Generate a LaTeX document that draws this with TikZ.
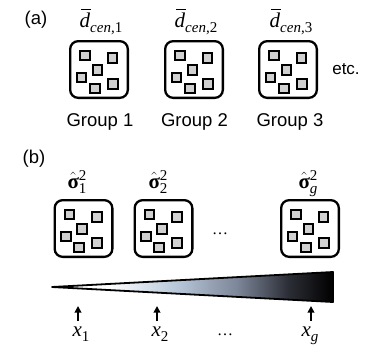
\documentclass[tikz,border=0pt]{standalone}
\usepackage{fontspec}
\setmainfont{Liberation Sans}
\newfontfamily\tnr{Liberation Serif}
\usetikzlibrary{arrows.meta}
\definecolor{sqfill}{HTML}{D0D0D0}
\definecolor{wlb}{HTML}{B8C8DA}
\definecolor{wmid}{HTML}{7C8698}
\definecolor{wdark}{HTML}{2C2E36}
\pgfdeclarehorizontalshading{wedgeshade}{100bp}{color(0bp)=(white); color(25bp)=(white); color(35bp)=(white); color(47bp)=(wlb); color(58bp)=(wmid); color(67bp)=(wdark); color(75bp)=(black); color(100bp)=(black)}
\newcommand\mainsz{\tnr\fontsize{21}{21}\selectfont}
\newcommand\scrsz{\fontsize{15}{15}\selectfont}
\newcommand\dlab[1]{\makebox[0pt][l]{\hspace{1.8pt}\rule[16.8pt]{10pt}{1pt}}\textit{d}\raisebox{-5pt}{\scrsz\textit{cen},#1}}
\newcommand\slab[1]{$\hat{\hbox{\bfseries σ}}$\makebox[0pt][l]{\raisebox{8pt}{\scrsz 2}}\raisebox{-5pt}{\scrsz #1}}
\newcommand\xlab[1]{\textit{x}\raisebox{-5.5pt}{\scrsz #1}}
\tikzset{
  boxst/.style={draw, line width=2.3pt, rounded corners=8pt, minimum width=57.7pt, minimum height=56.7pt, inner sep=0pt},
  sq/.style={draw, line width=2pt, fill=sqfill, minimum size=9.8pt, inner sep=0pt},
  lab/.style={font=\fontsize{18.5}{18.5}\selectfont, inner sep=0pt},
  mth/.style={font=\mainsz, inner sep=0pt, anchor=base},
  dotst/.style={font=\tnr\fontsize{16}{16}\selectfont, inner sep=0pt},
  arr/.style={line width=1.7pt, -{Triangle[width=6.5pt,length=6.5pt]}},
  pics/grp/.style={code={
    \node[boxst] (-box) at (0,0) {};
    \node[sq] (-a) at (-14,-14) {};
    \node[sq] (-b) at (13.5,-11.5) {};
    \node[sq] (-c) at (-1.5,0.5) {};
    \node[sq] (-d) at (-17.5,8) {};
    \node[sq] (-e) at (-4.2,19) {};
    \node[sq] (-f) at (13.7,14.2) {};
  }}
}
\begin{document}
\begin{tikzpicture}[x=1pt,y=-1pt]
\useasboundingbox (0,0) rectangle (367,346);
% (a)
\node[lab] (la) at (36,20) {(a)};
\pic (ga1) at (99,69.5) {grp};
\pic (ga2) at (194,69.5) {grp};
\pic (ga3) at (288,69.5) {grp};
\node[mth] (da1) at (101,27) {\dlab{1}};
\node[mth] (da2) at (196,27) {\dlab{2}};
\node[mth] (da3) at (291,27) {\dlab{3}};
\node[lab, anchor=base] (gl1) at (100,126) {Group 1};
\node[lab, anchor=base] (gl2) at (194.5,126) {Group 2};
\node[lab, anchor=base] (gl3) at (290,126) {Group 3};
\node[lab, font=\fontsize{17}{17}\selectfont] (etc) at (346,69) {etc.};
% (b)
\node[lab] (lb) at (34,159) {(b)};
\pic (gb1) at (83.5,228.5) {grp};
\pic (gb2) at (163.5,228.5) {grp};
\pic (gb3) at (310,228.5) {grp};
\node[mth] (s1) at (77,188) {\slab{1}};
\node[mth] (s2) at (158,188) {\slab{2}};
\node[mth] (s3) at (308,188) {\slab{\itshape g}};
\node[dotst] (dm) at (220,234) {\ldots};
% wedge
\coordinate (wt) at (52,287);
\coordinate (wr1) at (333,272);
\coordinate (wr2) at (333,302);
\shade[shading=wedgeshade, draw=black, line width=1.8pt, line join=round] (wt) -- (wr1) -- (wr2) -- cycle;
% x labels and arrows
\node[mth] (x1) at (81,336) {\xlab{1}};
\node[mth] (x2) at (160,336) {\xlab{2}};
\node[mth] (x3) at (310,336) {\xlab{\itshape g}};
\node[dotst] (db) at (225,335) {\ldots};
\coordinate (p1) at (78,306);
\coordinate (p2) at (157,306);
\coordinate (p3) at (311,306);
\draw[arr] ([yshift=5pt]x1.north -| p1) -- (p1);
\draw[arr] ([yshift=5pt]x2.north -| p2) -- (p2);
\draw[arr] ([yshift=5pt]x3.north -| p3) -- (p3);
\end{tikzpicture}
\end{document}
